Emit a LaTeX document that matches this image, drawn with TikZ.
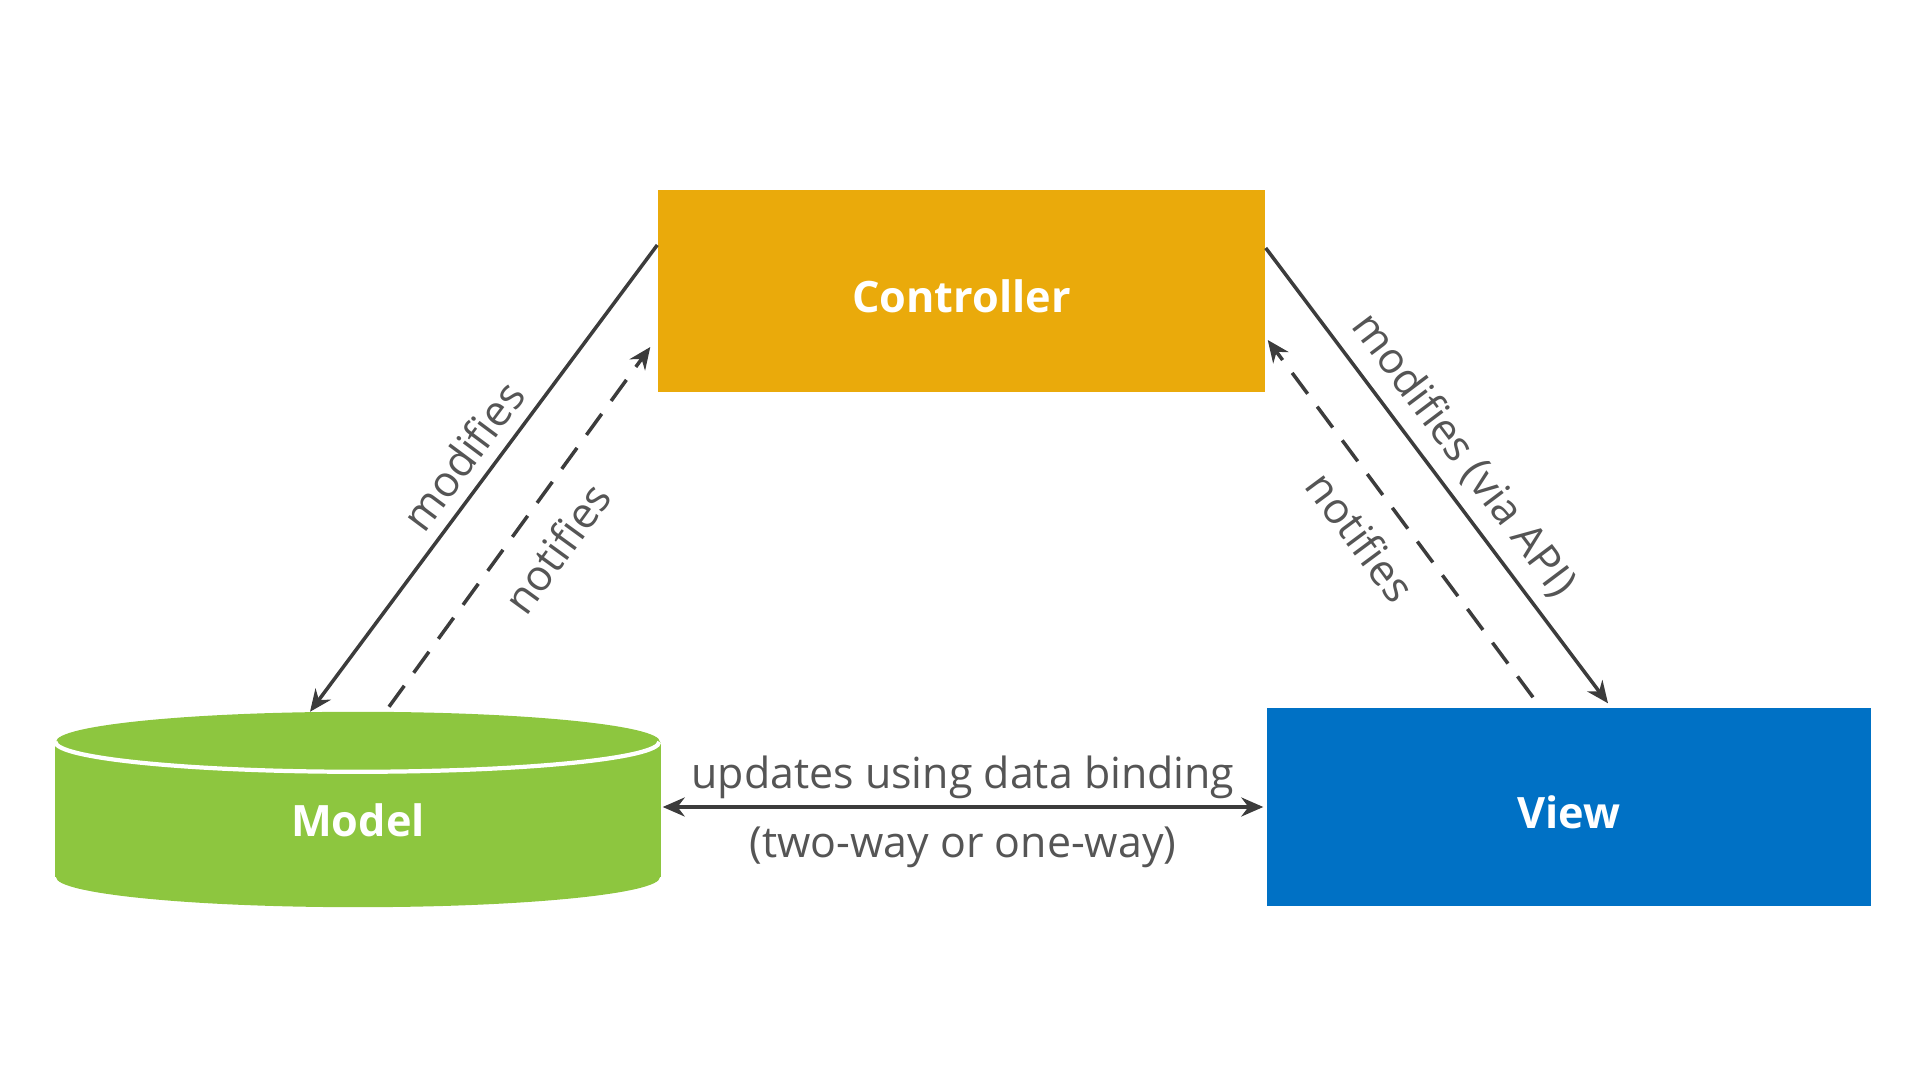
\documentclass[tikz,border=0pt]{standalone}
\usepackage{fontspec}
\setmainfont{Open Sans}
\usetikzlibrary{arrows.meta, backgrounds}
\definecolor{ctrlorange}{HTML}{EAAA0B}
\definecolor{viewblue}{HTML}{0071C5}
\definecolor{modelgreen}{HTML}{8DC63F}
\definecolor{labelgray}{HTML}{555555}
\definecolor{linegray}{HTML}{3C3C3C}

\begin{document}
\begin{tikzpicture}
    % Define styles
    \tikzset{
        >={Stealth[length=2.2mm, width=1.9mm]},
        block/.style={
            inner sep=0pt,
            text=white,
            text height=0.43cm,
            text depth=0pt,
            font=\fontsize{12.3}{14}\selectfont\bfseries
        },
        link/.style={
            linegray,
            line width=1pt,
            ->
        },
        notify/.style={
            link,
            dash pattern=on 2.6mm off 1.6mm
        },
        label/.style={
            labelgray,
            font=\fontsize{12.2}{14}\selectfont
        }
    }
    \useasboundingbox (0,0) rectangle (19.2,10.8);

    % Blocks
    \node[block, fill=ctrlorange, minimum width=6.07cm, minimum height=2.02cm] (ctrl) at (9.615,7.89) {Controller};
    \node[block, fill=viewblue, minimum width=6.04cm, minimum height=1.98cm] (view) at (15.69,2.73) {View};
    \node[block, minimum width=6.04cm, minimum height=1.94cm, text height=0.55cm] (model) at (3.58,2.705) {Model};

    % Cylinder behind the model text
    \begin{scope}[on background layer]
        \fill[modelgreen] ([yshift=-3mm]model.north west) rectangle ([yshift=3mm]model.south east);
        \fill[modelgreen] ([yshift=-3mm]model.north) ellipse [x radius=3.02cm, y radius=3mm];
        \fill[modelgreen] ([yshift=3mm]model.south) ellipse [x radius=3.02cm, y radius=3mm];
        \draw[white, line width=1.2pt] ([yshift=-3mm]model.north west) arc [start angle=180, end angle=360, x radius=3.02cm, y radius=3mm];
    \end{scope}

    % Controller and model
    \draw[link] ([yshift=4.6mm]ctrl.west) -- node[label, sloped, above, pos=0.49] {modifies} ([xshift=-4.8mm]model.north);
    \draw[notify] ([xshift=3.1mm, yshift=0.5mm]model.north) -- node[label, sloped, below, pos=0.51, inner sep=2.4mm] {notifies} ([xshift=-0.7mm, yshift=-5.6mm]ctrl.west);

    % Controller and view
    \draw[link] ([yshift=4.3mm]ctrl.east) -- node[label, sloped, above, pos=0.5] {modifies (via API)} ([xshift=3.9mm, yshift=0.4mm]view.north);
    \draw[notify] ([xshift=-3.6mm, yshift=1mm]view.north) -- node[label, sloped, below, pos=0.52, inner sep=2.4mm] {notifies} ([xshift=0.2mm, yshift=-4.9mm]ctrl.east);

    % Model and view
    \draw[link, <->] ([xshift=0.2mm]view.west -| model.east) -- node[label, above, inner sep=0.6mm] {updates using data binding} node[label, below, inner sep=1.8mm] {(two-way or one-way)} ([xshift=-0.3mm]view.west);
\end{tikzpicture}
\end{document}
